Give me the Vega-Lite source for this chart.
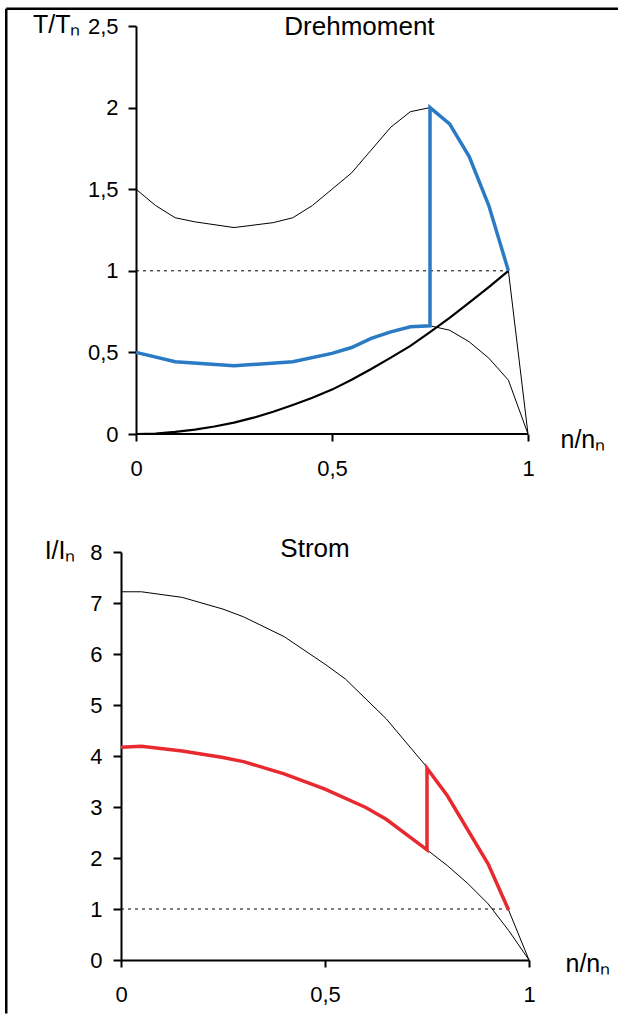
{
  "$schema": "https://vega.github.io/schema/vega-lite/v6.json",
  "padding": {"left": 5, "top": 7, "right": 0, "bottom": 0},
  "background": "white",
  "config": {
    "font": "Liberation Sans",
    "view": {"stroke": null},
    "axis": {
      "grid": false,
      "domainColor": "black",
      "domainWidth": 2,
      "tickColor": "black",
      "tickWidth": 2,
      "tickSize": 8,
      "labelFont": "Liberation Sans",
      "labelFontSize": 22,
      "labelColor": "black",
      "labelFlush": false,
      "labelOverlap": false,
      "labelPadding": 10,
      "titleFont": "Liberation Sans",
      "titleFontSize": 25,
      "titleFontWeight": "normal",
      "titleColor": "black"
    },
    "line": {"strokeCap": "butt", "strokeJoin": "miter"}
  },
  "datasets": {
    "T_full": [{"x":0,"y":1.5},{"x":0.05,"y":1.4},{"x":0.1,"y":1.325},{"x":0.15,"y":1.3},{"x":0.25,"y":1.265},{"x":0.35,"y":1.295},{"x":0.4,"y":1.325},{"x":0.45,"y":1.4},{"x":0.5,"y":1.5},{"x":0.55,"y":1.6},{"x":0.6,"y":1.74},{"x":0.65,"y":1.88},{"x":0.7,"y":1.975},{"x":0.75,"y":2.0},{"x":0.8,"y":1.9},{"x":0.85,"y":1.7},{"x":0.9,"y":1.4},{"x":0.95,"y":1.0},{"x":1,"y":0}],
    "T_red": [{"x":0.75,"y":0.663},{"x":0.8,"y":0.636},{"x":0.85,"y":0.565},{"x":0.9,"y":0.465},{"x":0.95,"y":0.33},{"x":1,"y":0}],
    "T_load": [{"x":0,"y":0},{"x":0.05,"y":0.003},{"x":0.1,"y":0.013},{"x":0.15,"y":0.027},{"x":0.2,"y":0.046},{"x":0.25,"y":0.07},{"x":0.3,"y":0.1},{"x":0.35,"y":0.136},{"x":0.4,"y":0.178},{"x":0.45,"y":0.222},{"x":0.5,"y":0.272},{"x":0.55,"y":0.332},{"x":0.6,"y":0.398},{"x":0.65,"y":0.468},{"x":0.7,"y":0.54},{"x":0.75,"y":0.624},{"x":0.8,"y":0.712},{"x":0.85,"y":0.805},{"x":0.9,"y":0.9},{"x":0.95,"y":1.0}],
    "T_blue": [{"x":0,"y":0.5},{"x":0.1,"y":0.443},{"x":0.25,"y":0.418},{"x":0.4,"y":0.443},{"x":0.5,"y":0.494},{"x":0.55,"y":0.53},{"x":0.6,"y":0.586},{"x":0.65,"y":0.626},{"x":0.7,"y":0.657},{"x":0.75,"y":0.663},{"x":0.75,"y":2.0},{"x":0.8,"y":1.9},{"x":0.85,"y":1.7},{"x":0.9,"y":1.4},{"x":0.95,"y":1.0}],
    "T_dot": [{"x":0,"y":1},{"x":0.95,"y":1}],
    "I_full": [{"x":0,"y":7.22},{"x":0.05,"y":7.22},{"x":0.15,"y":7.11},{"x":0.25,"y":6.88},{"x":0.3,"y":6.73},{"x":0.4,"y":6.34},{"x":0.5,"y":5.8},{"x":0.55,"y":5.51},{"x":0.65,"y":4.73},{"x":0.75,"y":3.78},{"x":0.8,"y":3.22},{"x":0.9,"y":1.88},{"x":0.95,"y":0.98},{"x":1,"y":0}],
    "I_red_thin": [{"x":0.75,"y":2.16},{"x":0.8,"y":1.85},{"x":0.85,"y":1.5},{"x":0.9,"y":1.1},{"x":0.95,"y":0.58},{"x":1,"y":0}],
    "I_red": [{"x":0,"y":4.17},{"x":0.05,"y":4.19},{"x":0.15,"y":4.1},{"x":0.25,"y":3.97},{"x":0.3,"y":3.89},{"x":0.4,"y":3.65},{"x":0.5,"y":3.35},{"x":0.6,"y":2.99},{"x":0.65,"y":2.76},{"x":0.75,"y":2.16},{"x":0.75,"y":3.76},{"x":0.8,"y":3.22},{"x":0.9,"y":1.88},{"x":0.95,"y":0.98}],
    "I_dot": [{"x":0,"y":1},{"x":0.95,"y":1}]
  },
  "spacing": 118,
  "bounds": "flush",
  "vconcat": [
    {
      "width": 407,
      "height": 408,
      "layer": [
        {
          "data": {"name": "T_dot"},
          "mark": {"type": "line", "color": "black", "strokeWidth": 1, "strokeDash": [3, 4]},
          "encoding": {
            "x": {
              "field": "x", "type": "quantitative",
              "scale": {"domain": [-0.03827, 1], "nice": false, "zero": false},
              "axis": {
                "values": [0, 0.5, 1],
                "domain": false,
                "tickSize": 7,
                "labelPadding": 17,
                "labelExpr": "replace(format(datum.value, '~g'), '.', ',')",
                "title": "n/nₙ",
                "titleAngle": 0,
                "titleAlign": "left",
                "titleBaseline": "alphabetic",
                "titleX": 439,
                "titleY": 13
              }
            },
            "y": {
              "field": "y", "type": "quantitative",
              "scale": {"domain": [0, 2.5], "nice": false},
              "axis": {
                "values": [0, 0.5, 1, 1.5, 2, 2.5],
                "offset": -15,
                "labelExpr": "replace(format(datum.value, '~g'), '.', ',')",
                "title": "T/Tₙ",
                "titleAngle": 0,
                "titleAlign": "right",
                "titleBaseline": "alphabetic",
                "titleX": -56,
                "titleY": 6
              }
            }
          }
        },
        {
          "data": {"values": [{}]},
          "mark": {"type": "rule", "clip": false, "strokeWidth": 2.5, "color": "black"},
          "encoding": {
            "x": {"datum": -0.331, "type": "quantitative", "scale": {"domain": [-0.03827, 1], "nice": false, "zero": false}},
            "y": {"datum": 2.6057, "type": "quantitative", "scale": {"domain": [0, 2.5], "nice": false}},
            "y2": {"datum": -3.551}
          }
        },
        {
          "data": {"values": [{}]},
          "mark": {"type": "rule", "clip": false, "strokeWidth": 2.5, "color": "black"},
          "encoding": {
            "x": {"datum": -0.331, "type": "quantitative", "scale": {"domain": [-0.03827, 1], "nice": false, "zero": false}},
            "x2": {"datum": 1.2296},
            "y": {"datum": 2.6057, "type": "quantitative", "scale": {"domain": [0, 2.5], "nice": false}}
          }
        },
        {
          "data": {"name": "T_full"},
          "mark": {"type": "line", "color": "black", "strokeWidth": 1},
          "encoding": {
            "x": {"field": "x", "type": "quantitative", "scale": {"domain": [-0.03827, 1], "nice": false, "zero": false}},
            "y": {"field": "y", "type": "quantitative", "scale": {"domain": [0, 2.5], "nice": false}}
          }
        },
        {
          "data": {"name": "T_red"},
          "mark": {"type": "line", "color": "black", "strokeWidth": 1},
          "encoding": {
            "x": {"field": "x", "type": "quantitative", "scale": {"domain": [-0.03827, 1], "nice": false, "zero": false}},
            "y": {"field": "y", "type": "quantitative", "scale": {"domain": [0, 2.5], "nice": false}}
          }
        },
        {
          "data": {"name": "T_load"},
          "mark": {"type": "line", "color": "black", "strokeWidth": 2.2},
          "encoding": {
            "x": {"field": "x", "type": "quantitative", "scale": {"domain": [-0.03827, 1], "nice": false, "zero": false}},
            "y": {"field": "y", "type": "quantitative", "scale": {"domain": [0, 2.5], "nice": false}}
          }
        },
        {
          "data": {"values": [{}]},
          "mark": {"type": "rule", "color": "black", "strokeWidth": 2},
          "encoding": {
            "x": {"datum": 0, "type": "quantitative", "scale": {"domain": [-0.03827, 1], "nice": false, "zero": false}},
            "x2": {"datum": 1},
            "y": {"datum": 0, "type": "quantitative", "scale": {"domain": [0, 2.5], "nice": false}}
          }
        },
        {
          "data": {"name": "T_blue"},
          "mark": {"type": "line", "color": "#2a7bc4", "strokeWidth": 3.5},
          "encoding": {
            "x": {"field": "x", "type": "quantitative", "scale": {"domain": [-0.03827, 1], "nice": false, "zero": false}},
            "y": {"field": "y", "type": "quantitative", "scale": {"domain": [0, 2.5], "nice": false}},
            "order": {"value": null}
          }
        },
        {
          "data": {"values": [{}]},
          "mark": {"type": "text", "text": "Drehmoment", "fontSize": 26, "align": "center", "baseline": "alphabetic", "color": "black"},
          "encoding": {
            "x": {"datum": 0.57, "type": "quantitative", "scale": {"domain": [-0.03827, 1], "nice": false, "zero": false}},
            "y": {"datum": 2.446, "type": "quantitative", "scale": {"domain": [0, 2.5], "nice": false}}
          }
        }
      ]
    },
    {
      "width": 408,
      "height": 408,
      "layer": [
        {
          "data": {"name": "I_dot"},
          "mark": {"type": "line", "color": "black", "strokeWidth": 1, "strokeDash": [3, 4]},
          "encoding": {
            "x": {
              "field": "x", "type": "quantitative",
              "scale": {"domain": [0, 1], "nice": false},
              "axis": {
                "values": [0, 0.5, 1],
                "tickSize": 7,
                "labelPadding": 17,
                "labelExpr": "replace(format(datum.value, '~g'), '.', ',')",
                "title": "n/nₙ",
                "titleAngle": 0,
                "titleAlign": "left",
                "titleBaseline": "alphabetic",
                "titleX": 444,
                "titleY": 11
              }
            },
            "y": {
              "field": "y", "type": "quantitative",
              "scale": {"domain": [0, 8], "nice": false},
              "axis": {
                "values": [0, 1, 2, 3, 4, 5, 6, 7, 8],
                "labelPadding": 11,
                "title": "I/Iₙ",
                "titleAngle": 0,
                "titleAlign": "right",
                "titleBaseline": "alphabetic",
                "titleX": -46,
                "titleY": 6
              }
            }
          }
        },
        {
          "data": {"name": "I_full"},
          "mark": {"type": "line", "color": "black", "strokeWidth": 1},
          "encoding": {
            "x": {"field": "x", "type": "quantitative", "scale": {"domain": [0, 1], "nice": false}},
            "y": {"field": "y", "type": "quantitative", "scale": {"domain": [0, 8], "nice": false}}
          }
        },
        {
          "data": {"name": "I_red_thin"},
          "mark": {"type": "line", "color": "black", "strokeWidth": 1},
          "encoding": {
            "x": {"field": "x", "type": "quantitative", "scale": {"domain": [0, 1], "nice": false}},
            "y": {"field": "y", "type": "quantitative", "scale": {"domain": [0, 8], "nice": false}}
          }
        },
        {
          "data": {"name": "I_red"},
          "mark": {"type": "line", "color": "#e8292f", "strokeWidth": 3.5},
          "encoding": {
            "x": {"field": "x", "type": "quantitative", "scale": {"domain": [0, 1], "nice": false}},
            "y": {"field": "y", "type": "quantitative", "scale": {"domain": [0, 8], "nice": false}},
            "order": {"value": null}
          }
        },
        {
          "data": {"values": [{}]},
          "mark": {"type": "text", "text": "Strom", "fontSize": 26, "align": "center", "baseline": "alphabetic", "color": "black"},
          "encoding": {
            "x": {"datum": 0.4755, "type": "quantitative", "scale": {"domain": [0, 1], "nice": false}},
            "y": {"datum": 7.894, "type": "quantitative", "scale": {"domain": [0, 8], "nice": false}}
          }
        }
      ]
    }
  ]
}
